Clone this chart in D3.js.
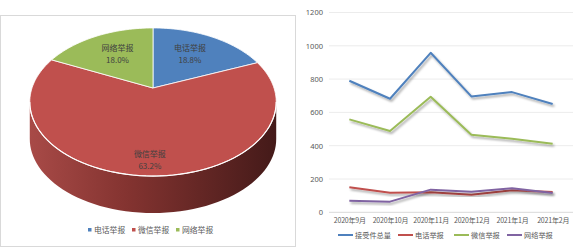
<!DOCTYPE html>
<html>
<head>
<meta charset="utf-8">
<script src="https://cdn.jsdelivr.net/npm/d3@7"></script>
<style>
  body { margin: 0; background: #fff; }
  text { font-family: "Noto Sans CJK SC", "Noto Sans", sans-serif; }
</style>
</head>
<body>
<svg id="chart" width="582" height="250"></svg>
<script>
// 饼图数据
const pieNames = ['电话举报', '微信举报', '网络举报'];
const pieValues = [18.8, 63.2, 18.0];
const pieColors = ['#4f81bd', '#c0504d', '#9bbb59'];

// 折线图数据
const months = ['2020年9月', '2020年10月', '2020年11月', '2020年12月', '2021年1月', '2021年2月'];
const seriesNames = ['接受件总量', '电话举报', '微信举报', '网络举报'];
const totalCount = [790, 682, 958, 696, 722, 650];
const phoneCount = [150, 118, 120, 106, 132, 122];
const wechatCount = [558, 488, 694, 466, 442, 412];
const netCount = [70, 64, 136, 124, 144, 116];
const yTicks = [0, 200, 400, 600, 800, 1000, 1200];
const lineColors = ['#4f81bd', '#c0504d', '#9bbb59', '#8064a2'];

const svg = d3.select('#chart');
const defs = svg.append('defs');

defs.append('filter').attr('id', 'shadow')
    .attr('x', '-10%').attr('y', '-10%').attr('width', '120%').attr('height', '140%')
    .append('feDropShadow')
    .attr('dx', 1.5).attr('dy', 2).attr('stdDeviation', 1)
    .attr('flood-color', '#000').attr('flood-opacity', 0.35);

const sideGrad = defs.append('linearGradient').attr('id', 'side')
    .attr('x1', 0).attr('x2', 1).attr('y1', 0).attr('y2', 0);
sideGrad.append('stop').attr('offset', '0%').attr('stop-color', '#a84a47');
sideGrad.append('stop').attr('offset', '40%').attr('stop-color', '#833330');
sideGrad.append('stop').attr('offset', '100%').attr('stop-color', '#441a19');

// ---------- 左侧 3D 饼图 ----------
svg.append('rect')
    .attr('x', 0.5).attr('y', 15.5).attr('width', 295).attr('height', 231)
    .attr('fill', '#fff').attr('stroke', '#d9d9d9');

const cx = 153, cy = 88, A = 121, B = 71.4, k = 0.189, depth = 37;

// 透视投影：角度从 12 点方向顺时针
const proj = (a, f = 1) => {
    const u = f * Math.sin(a), w = f * Math.cos(a);
    const s = 1 / (1 + k * w);
    return [cx + A * u * s, cy - B * w * s];
};

const pie = d3.pie().sort(null).value(d => d)(pieValues);

// 侧面
const a0 = Math.PI - Math.acos(k), a1 = Math.PI + Math.acos(k);
const sideTop = d3.range(0, 61).map(i => proj(a0 + (a1 - a0) * i / 60));
const sidePts = sideTop.concat(sideTop.slice().reverse().map(p => [p[0], p[1] + depth]));
svg.append('path')
    .attr('d', d3.line()(sidePts) + 'Z')
    .attr('fill', 'url(#side)');

// 顶面扇区
const pieG = svg.append('g');
pie.forEach((d, i) => {
    const n = Math.max(8, Math.round((d.endAngle - d.startAngle) * 30));
    const pts = [[cx, cy]];
    for (let j = 0; j <= n; j++) pts.push(proj(d.startAngle + (d.endAngle - d.startAngle) * j / n));
    pieG.append('path')
        .attr('d', d3.line()(pts) + 'Z')
        .attr('fill', pieColors[i])
        .attr('stroke', '#fff').attr('stroke-width', 0.8).attr('stroke-linejoin', 'round');
});

// 前沿高光
svg.append('path')
    .attr('d', d3.line()(sideTop))
    .attr('fill', 'none').attr('stroke', '#fff').attr('stroke-width', 1.2);

// 数据标签
pie.forEach((d, i) => {
    const mid = (d.startAngle + d.endAngle) / 2;
    const f = Math.cos(mid) < -0.5 ? 0.86 : 0.6;
    const [lx, ly] = proj(mid, f);
    const t = svg.append('text')
        .attr('text-anchor', 'middle').attr('font-size', 8).attr('fill', '#404040');
    t.append('tspan').attr('x', lx).attr('y', ly - 4).text(pieNames[i]);
    t.append('tspan').attr('x', lx).attr('y', ly + 8).text(d3.format('.1f')(d.data) + '%');
});

// 饼图图例
const pieLegend = svg.append('g').attr('transform', 'translate(88,230)');
pieNames.forEach((name, i) => {
    const g = pieLegend.append('g').attr('transform', `translate(${i * 44},0)`);
    g.append('rect').attr('x', 0).attr('y', -2).attr('width', 3.5).attr('height', 3.5).attr('fill', pieColors[i]);
    g.append('text').attr('x', 6).attr('y', 3).attr('font-size', 7.8).attr('fill', '#595959').text(name);
});

// ---------- 右侧折线图 ----------
const plot = { left: 329, right: 573, top: 12.5, bottom: 212.3 };

const xScale = d3.scalePoint()
    .domain(months)
    .range([plot.left, plot.right])
    .padding(0.5);

const yScale = d3.scaleLinear()
    .domain([0, 1200])
    .range([plot.bottom, plot.top]);

svg.append('g')
    .selectAll('line')
    .data(yTicks)
    .join('line')
    .attr('x1', plot.left).attr('x2', plot.right)
    .attr('y1', d => yScale(d)).attr('y2', d => yScale(d))
    .attr('stroke', d => d === 0 ? '#d9d9d9' : '#ececec').attr('stroke-width', 1);

const yAxis = d3.axisLeft(yScale).tickValues(yTicks).tickFormat(d3.format('d')).tickSize(0).tickPadding(6);
const yG = svg.append('g').attr('transform', `translate(${plot.left},0)`).call(yAxis);
yG.select('.domain').remove();
yG.selectAll('text').attr('font-size', 7.5).attr('fill', '#595959')
    .style('font-family', '"Noto Sans", sans-serif');

const xAxis = d3.axisBottom(xScale).tickSize(0).tickPadding(6);
const xG = svg.append('g').attr('transform', `translate(0,${plot.bottom})`).call(xAxis);
xG.select('.domain').remove();
xG.selectAll('text').attr('font-size', 7).attr('fill', '#595959')
    .attr('letter-spacing', -0.2);

const line = d3.line()
    .x((d, i) => xScale(months[i]))
    .y(d => yScale(d));

const series = [totalCount, phoneCount, wechatCount, netCount];
svg.append('g')
    .selectAll('path')
    .data(series)
    .join('path')
    .attr('fill', 'none')
    .attr('stroke', (d, i) => lineColors[i])
    .attr('stroke-width', 2)
    .attr('stroke-linejoin', 'round')
    .attr('filter', 'url(#shadow)')
    .attr('d', line);

// 折线图图例
const legendX = [338, 398, 454, 507];
const lineLegend = svg.append('g').attr('transform', 'translate(0,235)');
seriesNames.forEach((name, i) => {
    const g = lineLegend.append('g').attr('transform', `translate(${legendX[i]},0)`);
    g.append('line').attr('x1', 0).attr('x2', 15).attr('y1', 0).attr('y2', 0)
        .attr('stroke', lineColors[i]).attr('stroke-width', 2);
    g.append('text').attr('x', 17).attr('y', 2.7).attr('font-size', 7.2).attr('fill', '#595959').text(name);
});
</script>
</body>
</html>
